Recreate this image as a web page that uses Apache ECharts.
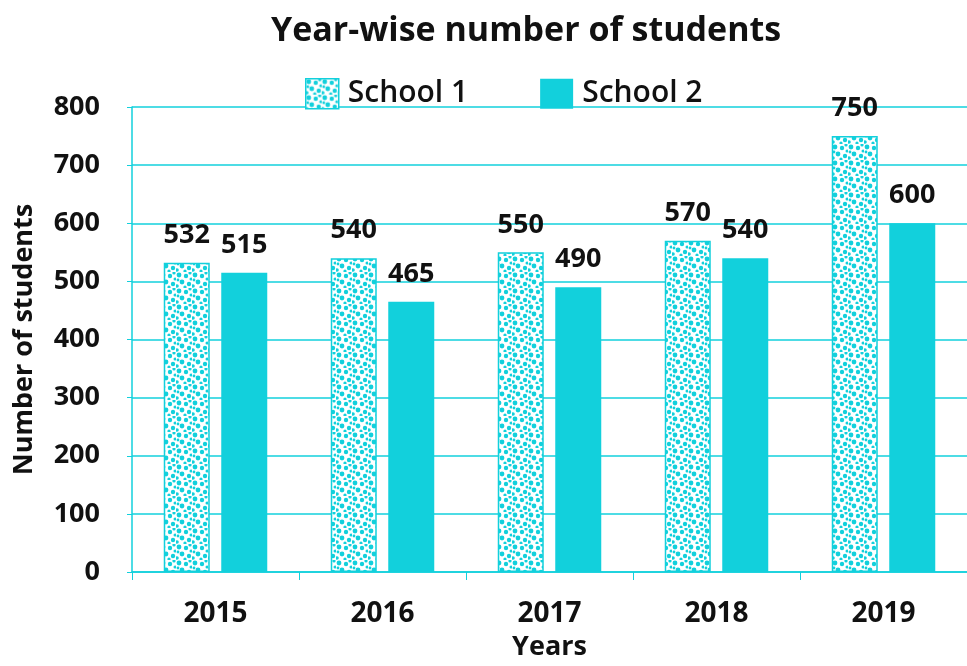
<!DOCTYPE html>
<html>
<head>
<meta charset="utf-8">
<script src="https://cdn.jsdelivr.net/npm/echarts@6/dist/echarts.min.js"></script>
<style>html,body{margin:0;padding:0;background:#fff;}#c{width:967px;height:666px;}</style>
</head>
<body>
<div id="c"></div>
<script>
const years = ['2015', '2016', '2017', '2018', '2019'];
const school1 = [532, 540, 550, 570, 750];
const school2 = [515, 465, 490, 540, 600];
const yTicks = [0, 100, 200, 300, 400, 500, 600, 700, 800];

const CYAN = '#12d0dc';
// dotted texture for School 1
const pc = document.createElement('canvas');
pc.width = 16; pc.height = 16;
const g = pc.getContext('2d');
g.fillStyle = '#ffffff'; g.fillRect(0, 0, 16, 16);
g.fillStyle = CYAN;
[[3,3,2.4],[10,4,2.2],[6,10,2.4],[13,12,2.2],[1,14,1.8],[9,15,1.6],[14,1,1.6],[15,7,1.5],[2,8,1.4]].forEach(([x,y,r]) => {
  g.beginPath(); g.arc(x, y, r, 0, Math.PI * 2); g.fill();
});
const dotFill = { image: pc, repeat: 'repeat' };

const font = '"Open Sans", "DejaVu Sans", sans-serif';
const chart = echarts.init(document.getElementById('c'));
const labelCfg = { show: true, position: 'top', distance: 14, color: '#111', fontSize: 27, fontWeight: 'bold', fontFamily: font };

chart.setOption({
  animation: false,
  backgroundColor: '#ffffff',
  title: {
    text: 'Year-wise number of students', left: 266, top: 9,
    textStyle: { fontSize: 34, fontWeight: 'bold', color: '#111', fontFamily: font }
  },
  legend: {
    top: 73, left: 300, itemWidth: 33, itemHeight: 30, itemGap: 72,
    textStyle: { fontSize: 30, fontWeight: 600, color: '#111', fontFamily: font, padding: [0, 0, 0, 4] },
    data: [
      { name: 'School 1', icon: 'rect', itemStyle: { color: dotFill, borderColor: CYAN, borderWidth: 1.5 } },
      { name: 'School 2', icon: 'rect' }
    ]
  },
  grid: { left: 132, right: 0, top: 107, bottom: 91 },
  xAxis: {
    type: 'category', data: years,
    name: 'Years', nameLocation: 'middle', nameGap: 62,
    nameTextStyle: { fontSize: 27, fontWeight: 'bold', color: '#111', fontFamily: font },
    axisLine: { lineStyle: { color: CYAN, width: 1.5 } },
    axisTick: { show: true, length: 8, lineStyle: { color: CYAN } },
    axisLabel: { margin: 28, fontSize: 28, fontWeight: 'bold', color: '#111', fontFamily: font }
  },
  yAxis: {
    type: 'value', min: yTicks[0], max: yTicks[yTicks.length - 1], interval: 100,
    name: 'Number of students', nameLocation: 'middle', nameGap: 94,
    nameTextStyle: { fontSize: 27, fontWeight: 'bold', color: '#111', fontFamily: font },
    axisLine: { show: true, lineStyle: { color: CYAN, width: 1.5 } },
    axisTick: { show: true, length: 5, lineStyle: { color: CYAN } },
    splitLine: { lineStyle: { color: CYAN, width: 1.5 } },
    axisLabel: { margin: 32, fontSize: 27, fontWeight: 'bold', color: '#111', fontFamily: font }
  },
  series: [
    {
      name: 'School 1', type: 'bar', data: school1, barWidth: 46, barGap: '25%',
      itemStyle: { color: dotFill, borderColor: CYAN, borderWidth: 1.5 },
      label: labelCfg
    },
    {
      name: 'School 2', type: 'bar', data: school2, barWidth: 46,
      itemStyle: { color: CYAN },
      label: labelCfg
    }
  ]
});
</script>
</body>
</html>
